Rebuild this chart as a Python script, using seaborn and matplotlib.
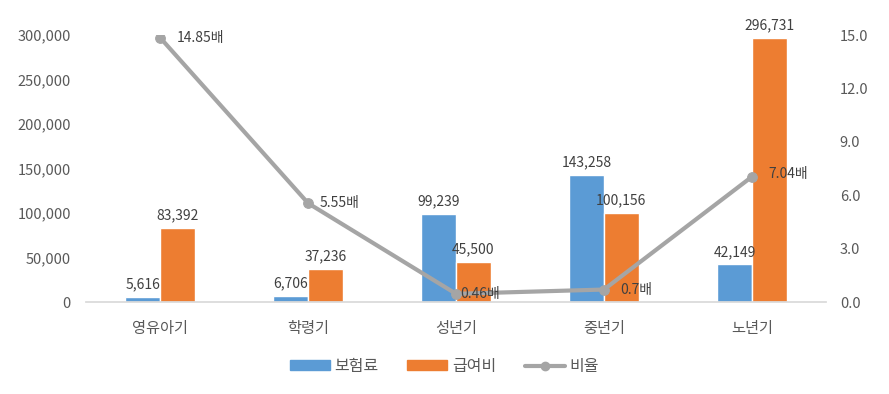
import matplotlib
matplotlib.use("Agg")
import matplotlib.pyplot as plt
import seaborn as sns
import pandas as pd
from matplotlib.ticker import FuncFormatter, FixedLocator
from matplotlib.lines import Line2D
from matplotlib.patches import Patch

categories = ["영유아기", "학령기", "성년기", "중년기", "노년기"]
premium = [5616, 6706, 99239, 143258, 42149]
benefit = [83392, 37236, 45500, 100156, 296731]
ratio = [14.85, 5.55, 0.46, 0.7, 7.04]
ratio_labels = ["14.85배", "5.55배", "0.46배", "0.7배", "7.04배"]
series_names = ["보험료", "급여비", "비율"]

sns.set_theme(style="white")
plt.rcParams['font.family'] = ['Noto Sans CJK KR', 'DejaVu Sans']

TXT = "#595959"
BLUE = "#5B9BD5"
ORANGE = "#ED7D31"
GRAY = "#A5A5A5"

df = pd.DataFrame({
    "cat": categories * 2,
    "val": premium + benefit,
    "series": [series_names[0]] * 5 + [series_names[1]] * 5,
})

fig = plt.figure(figsize=(8.89, 3.94), dpi=100)
ax = fig.add_axes([0.097, 0.2335, 0.832, 0.6775])
sns.barplot(data=df, x="cat", y="val", hue="series", palette=[BLUE, ORANGE],
            width=0.47, ax=ax, legend=False, saturation=1)
ax.set_ylim(0, 300000)
ax.set_xlim(-0.5, 4.5)
ax.yaxis.set_major_locator(FixedLocator(range(0, 300001, 50000)))
ax.yaxis.set_major_formatter(FuncFormatter(lambda v, p: f"{int(v):,}"))
ax.set_xlabel("")
ax.set_ylabel("")
for s in ["top", "right", "left"]:
    ax.spines[s].set_visible(False)
ax.spines["bottom"].set_color("#D9D9D9")
ax.tick_params(axis="y", colors=TXT, labelsize=10.5, length=0, pad=11)
ax.tick_params(axis="x", colors=TXT, labelsize=11, length=0, pad=13)

for cont in ax.containers:
    ax.bar_label(cont, labels=[f"{int(v):,}" for v in cont.datavalues],
                 color="#404040", fontsize=10, padding=4)

ax2 = ax.twinx()
sns.lineplot(x=list(range(5)), y=ratio, ax=ax2, color=GRAY, linewidth=3,
             marker="o", markersize=7, markeredgecolor=GRAY)
ax2.set_ylim(0, 15)
ax2.yaxis.set_major_locator(FixedLocator([0, 3, 6, 9, 12, 15]))
ax2.yaxis.set_major_formatter(FuncFormatter(lambda v, p: f"{v:.1f}"))
for s in ["top", "right", "left", "bottom"]:
    ax2.spines[s].set_visible(False)
ax2.tick_params(axis="y", colors=TXT, labelsize=10.5, length=0, pad=10)
offsets = [(12, 0), (8, 0), (3, 0), (12, 0), (12, 2)]
for i, (r, lab) in enumerate(zip(ratio, ratio_labels)):
    ax2.annotate(lab, (i, r), xytext=offsets[i], textcoords="offset points",
                 ha="left", va="center", color="#404040", fontsize=10)

handles = [Patch(color=BLUE), Patch(color=ORANGE),
           Line2D([0], [0], color=GRAY, lw=3, marker="o", markersize=6)]
fig.legend(handles, series_names, loc="center", bbox_to_anchor=(0.5, 0.07),
           ncol=3, frameon=False, fontsize=11.5, labelcolor=TXT,
           handlelength=2.5, handleheight=0.6, handletextpad=0.3,
           columnspacing=1.8)

fig.savefig("out.png", dpi=100)
